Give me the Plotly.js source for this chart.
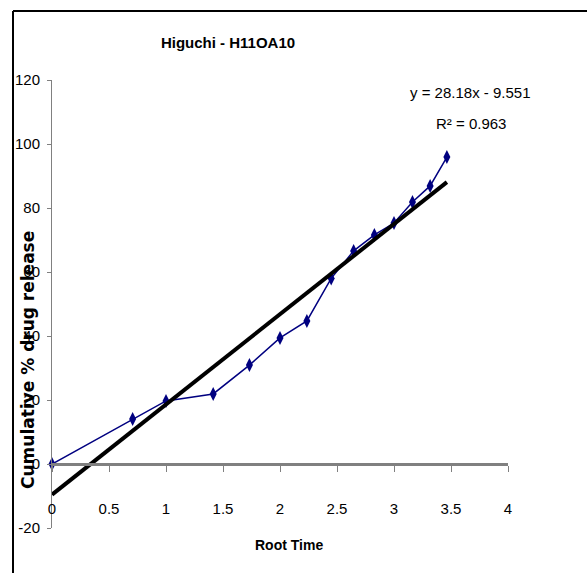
<!DOCTYPE html>
<html>
<head>
<meta charset="utf-8">
<script src="https://cdn.plot.ly/plotly-3.0.1.min.js"></script>
<style>html,body{margin:0;padding:0;background:#fff;}#chart{width:587px;height:573px;}</style>
</head>
<body>
<div id="chart"></div>
<script>
// Data (root time vs cumulative % drug release)
const rootTime = [0, 0.707, 1, 1.414, 1.732, 2, 2.236, 2.449, 2.646, 2.828, 3, 3.162, 3.317, 3.464];
const release  = [0, 14.1, 19.7, 21.9, 30.9, 39.4, 44.7, 58.0, 66.6, 71.6, 75.3, 81.9, 86.9, 95.9];
// Linear trendline as reported on chart
const slope = 28.18;
const intercept = -9.551;
const trendX = [0, 3.464];
const trendY = trendX.map(x => slope * x + intercept);
const xTicks = [0, 0.5, 1, 1.5, 2, 2.5, 3, 3.5, 4];
const yTicks = [-20, 0, 20, 40, 60, 80, 100, 120];

const narrow = '"Liberation Sans Narrow", "Arial Narrow", "Liberation Sans", Arial, sans-serif';

const traces = [
  {
    x: rootTime, y: release, type: 'scatter', mode: 'lines+markers',
    line: {color: '#000080', width: 1.5},
    marker: {symbol: 'diamond-tall', size: 10, color: '#000080'},
    cliponaxis: false, showlegend: false
  },
  {
    x: trendX, y: trendY, type: 'scatter', mode: 'lines',
    line: {color: '#000000', width: 4},
    cliponaxis: false, showlegend: false
  }
];

const layout = {
  width: 587, height: 573,
  margin: {l: 52, r: 79, t: 80, b: 45},
  paper_bgcolor: '#ffffff', plot_bgcolor: '#ffffff',
  showlegend: false,
  title: {
    text: '<b>Higuchi - H11OA10</b>',
    font: {family: narrow, size: 15, color: '#000'},
    x: 0.386, xref: 'paper', xanchor: 'center',
    y: 1 - 43/573, yref: 'container', yanchor: 'middle'
  },
  xaxis: {
    range: [0, 4], tickvals: xTicks, ticktext: xTicks.map(String),
    anchor: 'free', position: 1/7,
    showline: true, linecolor: '#808080', linewidth: 3,
    ticks: 'outside', ticklen: 6, tickcolor: '#808080', tickwidth: 1,
    ticklabelstandoff: 24,
    showgrid: false, zeroline: false,
    tickfont: {family: narrow, size: 15, color: '#000'}
  },
  yaxis: {
    range: [-20, 120], tickvals: yTicks, ticktext: yTicks.map(String),
    showline: true, linecolor: '#808080', linewidth: 1,
    ticks: 'outside', ticklen: 4, tickcolor: '#808080',
    ticklabelstandoff: 4,
    showgrid: false, zeroline: false,
    tickfont: {family: narrow, size: 15, color: '#000'}
  },
  annotations: [
    {text: '<b>Cumulative % drug release</b>', textangle: -90,
     xref: 'paper', yref: 'paper', x: (28-52)/456, y: (528-360)/448,
     xanchor: 'center', yanchor: 'middle', showarrow: false,
     font: {family: 'DejaVu Sans, sans-serif', size: 17, color: '#000'}},
    {text: '<b>Root Time</b>',
     xref: 'paper', yref: 'paper', x: (289-52)/456, y: (528-545)/448,
     xanchor: 'center', yanchor: 'middle', showarrow: false,
     font: {family: narrow, size: 14, color: '#000'}},
    {text: 'y = 28.18x - 9.551',
     xref: 'paper', yref: 'paper', x: (470-52)/456, y: (528-93)/448,
     xanchor: 'center', yanchor: 'middle', showarrow: false,
     font: {family: narrow, size: 15, color: '#000'}},
    {text: 'R² = 0.963',
     xref: 'paper', yref: 'paper', x: (471-52)/456, y: (528-123)/448,
     xanchor: 'center', yanchor: 'middle', showarrow: false,
     font: {family: narrow, size: 15, color: '#000'}}
  ],
  shapes: [
    {type: 'line', xref: 'paper', yref: 'paper',
     x0: (13-52)/456, x1: (600-52)/456, y0: (528-11)/448, y1: (528-11)/448,
     line: {color: '#000', width: 2}},
    {type: 'line', xref: 'paper', yref: 'paper',
     x0: (13-52)/456, x1: (13-52)/456, y0: (528-11)/448, y1: (528-600)/448,
     line: {color: '#000', width: 2}}
  ]
};

Plotly.newPlot('chart', traces, layout, {displayModeBar: false, staticPlot: true});
</script>
</body>
</html>
